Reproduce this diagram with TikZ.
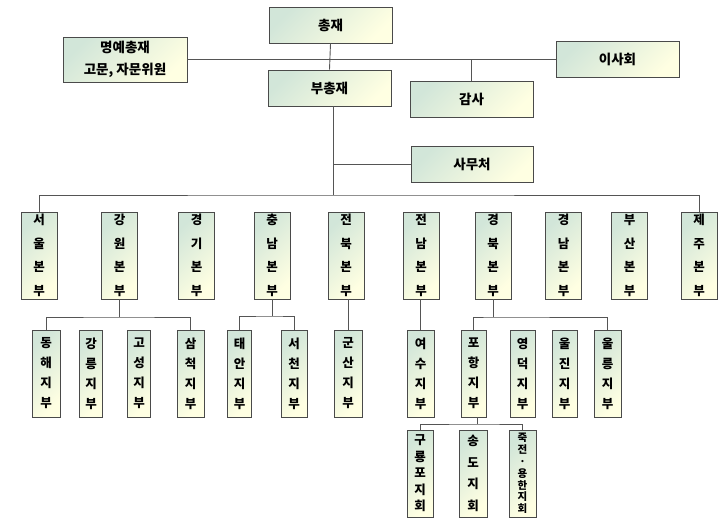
\documentclass[tikz,border=0pt]{standalone}
\usepackage{fontspec}
\setmainfont{Noto Sans CJK KR}
\definecolor{bxA}{HTML}{D2E6D9}
\definecolor{bxB}{HTML}{FFFFE2}
\definecolor{bxline}{HTML}{4A4A4A}
\definecolor{lnc}{HTML}{555555}
\begin{document}
\begin{tikzpicture}[x=1pt,y=-1pt,
  box/.style={draw=bxline, line width=0.9pt, left color=bxA, right color=bxB, shading angle=45,
              inner sep=0pt, align=center, font=\bfseries\fontsize{13.5}{22}\selectfont},
  topbox/.style={box, minimum width=123pt, minimum height=36pt},
  regbox/.style={box, minimum width=36pt, minimum height=87pt, font=\bfseries\fontsize{12.5}{23.5}\selectfont},
  subbox/.style={box, minimum width=26pt, minimum height=87pt, font=\bfseries\fontsize{12.5}{20}\selectfont},
  conn/.style={draw=lnc, line width=0.9pt}]
\useasboundingbox (0,0) rectangle (727,525);

% top level
\node[topbox] (chong) at (330.5,25) {총재};
\node[topbox, minimum width=124pt, minimum height=45pt] (myeong) at (125,59.5) {명예총재\\고문, 자문위원};
\node[topbox] (bu) at (329.5,88) {부총재};
\node[topbox] (isa) at (617.5,59.5) {이사회};
\node[topbox] (gamsa) at (471.5,99) {감사};
\node[topbox, minimum width=122pt] (samu) at (472,164) {사무처};

% regions
\node[regbox] (seoul)   at (39,255.5)  {서\\울\\본\\부};
\node[regbox] (gangwon) at (119.5,255.5) {강\\원\\본\\부};
\node[regbox] (gyeonggi) at (196.5,255.5) {경\\기\\본\\부};
\node[regbox] (chungnam) at (272,255.5) {충\\남\\본\\부};
\node[regbox] (jeonbuk) at (346,255.5) {전\\북\\본\\부};
\node[regbox] (jeonnam) at (421,255.5) {전\\남\\본\\부};
\node[regbox] (gyeongbuk) at (493,255.5) {경\\북\\본\\부};
\node[regbox] (gyeongnam) at (563.5,255.5) {경\\남\\본\\부};
\node[regbox] (busan) at (629.5,255.5) {부\\산\\본\\부};
\node[regbox] (jeju) at (699,255.5) {제\\주\\본\\부};

% branches
\node[subbox, minimum width=28pt] (donghae) at (46,373.5) {동\\해\\지\\부};
\node[subbox, minimum width=23pt] (gangneung) at (91,373.5) {강\\릉\\지\\부};
\node[subbox, minimum width=23pt] (goseong) at (139,373.5) {고\\성\\지\\부};
\node[subbox, minimum width=27pt] (samcheok) at (190.5,373.5) {삼\\척\\지\\부};
\node[subbox, minimum width=24pt] (taean) at (239.5,373.5) {태\\안\\지\\부};
\node[subbox] (seocheon) at (294,373.5) {서\\천\\지\\부};
\node[subbox, minimum width=28pt] (gunsan) at (348,373.5) {군\\산\\지\\부};
\node[subbox, minimum width=27pt] (yeosu) at (420.5,373.5) {여\\수\\지\\부};
\node[subbox, minimum width=25pt] (pohang) at (473.5,373.5) {포\\항\\지\\부};
\node[subbox, minimum width=25pt] (yeongdeok) at (522.5,373.5) {영\\덕\\지\\부};
\node[subbox, minimum width=25pt] (uljin) at (564.5,373.5) {울\\진\\지\\부};
\node[subbox, minimum width=27pt] (ulleung) at (607.5,373.5) {울\\릉\\지\\부};

% chapters
\node[subbox, font=\bfseries\fontsize{12.5}{16.5}\selectfont] (guryong) at (420,473.5) {구\\룡\\포\\지\\회};
\node[subbox, minimum width=28pt, font=\bfseries\fontsize{12.5}{21.5}\selectfont] (songdo) at (473,473.5) {송\\도\\지\\회};
\node[subbox, minimum width=27pt, font=\bfseries\fontsize{10.5}{11.8}\selectfont] (jukjeon) at (522.5,473.5) {죽\\전\\·\\용\\한\\지\\회};

% connectors (top)
\draw[conn] (myeong.east) -- (isa.west);
\draw[conn] (chong.south) -- (bu.north);
\draw[conn] (gamsa.north) -- (gamsa.north |- isa.west);
\coordinate (b1) at (333,195);
\draw[conn] (bu.south -| b1) -- (b1);
\draw[conn] (samu.west) -- (samu.west -| b1);
\draw[conn] (seoul.north) |- (b1) -| (jeju.north);

% region -> branches
\coordinate (gw) at (119.5,317);
\draw[conn] (gangwon.south) -- (gw);
\draw[conn] (donghae.north) |- (gw) -| (samcheok.north);
\coordinate (cn) at (272,316);
\draw[conn] (chungnam.south) -- (cn);
\draw[conn] (taean.north) |- (cn) -| (seocheon.north);
\draw[conn] (jeonbuk.south -| gunsan.north) -- (gunsan.north);
\draw[conn] (jeonnam.south -| yeosu.north) -- (yeosu.north);
\coordinate (gb) at (493,317);
\draw[conn] (gyeongbuk.south) -- (gb);
\draw[conn] (pohang.north) |- (gb) -| (ulleung.north);
\coordinate (ph) at (477,424);
\draw[conn] (pohang.south -| ph) -- (ph);
\draw[conn] (guryong.north) |- (ph) -| (jukjeon.north);
\end{tikzpicture}
\end{document}
